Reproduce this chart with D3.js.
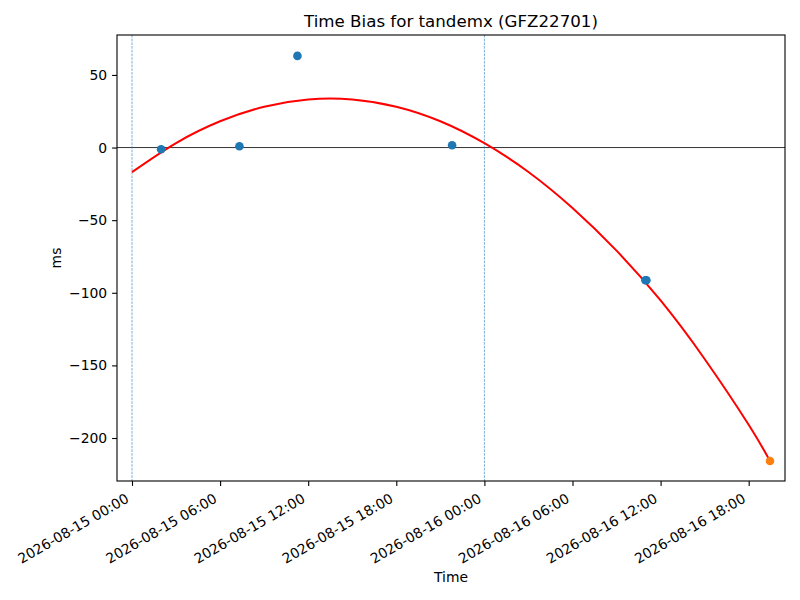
<!DOCTYPE html>
<html>
<head>
<meta charset="utf-8">
<script src="https://cdn.jsdelivr.net/npm/d3@7"></script>
<style>
  body { margin: 0; background: #fff; }
  svg { display: block; font-family: "DejaVu Sans", sans-serif; }
</style>
</head>
<body>
<svg id="chart" width="800" height="600"></svg>
<script>
// ---- data ----
const titleText = "Time Bias for tandemx (GFZ22701)";
const xLabel = "Time";
const yLabel = "ms";

// observed time bias (blue)
const obsTimes = ["2026-08-15T01:59:00Z", "2026-08-15T07:19:00Z", "2026-08-15T11:16:00Z",
                  "2026-08-15T21:48:00Z", "2026-08-16T10:58:00Z", "2026-08-16T11:02:00Z"];
const obsValues = [-1.2, 0.9, 63.1, 1.6, -91.4, -91.4];

// predicted point (orange)
const predTimes = ["2026-08-16T19:27:00Z"];
const predValues = [-215.8];

// fitted curve (red), values every 3 hours
const fitTimes = ["2026-08-15T00:00:00Z", "2026-08-15T03:00:00Z", "2026-08-15T06:00:00Z",
                  "2026-08-15T09:00:00Z", "2026-08-15T12:00:00Z", "2026-08-15T15:00:00Z",
                  "2026-08-15T18:00:00Z", "2026-08-15T21:00:00Z", "2026-08-16T00:00:00Z",
                  "2026-08-16T03:00:00Z", "2026-08-16T06:00:00Z", "2026-08-16T09:00:00Z",
                  "2026-08-16T12:00:00Z", "2026-08-16T15:00:00Z", "2026-08-16T18:00:00Z",
                  "2026-08-16T19:27:00Z"];
const fitValues = [-16.9, 3.1, 18.1, 28.1, 33.1, 33.1, 28.1, 18.1, 3.0,
                   -16.8, -41.6, -71.0, -105.3, -145.6, -190.9, -215.8];

// vertical reference lines
const vLineTimes = ["2026-08-15T00:00:00Z", "2026-08-16T00:00:00Z"];

// axis limits and ticks
const xDomain = ["2026-08-14T22:58:43Z", "2026-08-16T20:28:23Z"];
const yDomain = [-229.6, 77.5];
const xTickTimes = ["2026-08-15T00:00:00Z", "2026-08-15T06:00:00Z", "2026-08-15T12:00:00Z",
                    "2026-08-15T18:00:00Z", "2026-08-16T00:00:00Z", "2026-08-16T06:00:00Z",
                    "2026-08-16T12:00:00Z", "2026-08-16T18:00:00Z"];
const yTicks = [-200, -150, -100, -50, 0, 50];

// ---- layout ----
const pL = 117, pR = 785, pT = 35, pB = 481;
const svg = d3.select("#chart");
const parse = d3.isoParse;

const x = d3.scaleUtc().domain(xDomain.map(parse)).range([pL, pR]);
const y = d3.scaleLinear().domain(yDomain).range([pB, pT]);

const clipId = "plotclip";
svg.append("defs").append("clipPath").attr("id", clipId)
  .append("rect").attr("x", pL).attr("y", pT)
  .attr("width", pR - pL).attr("height", pB - pT);

const plot = svg.append("g").attr("clip-path", `url(#${clipId})`);

// horizontal zero line
plot.append("line")
  .attr("x1", pL).attr("x2", pR)
  .attr("y1", y(0)).attr("y2", y(0))
  .attr("stroke", "#000").attr("stroke-width", 0.8);

// vertical dashed lines
plot.selectAll("line.vl").data(vLineTimes).join("line")
  .attr("class", "vl")
  .attr("x1", d => x(parse(d))).attr("x2", d => x(parse(d)))
  .attr("y1", pT).attr("y2", pB)
  .attr("stroke", "#1f77b4").attr("stroke-opacity", 0.85)
  .attr("stroke-width", 0.7).attr("stroke-dasharray", "2.6,1.1");

// fitted curve
const fitData = fitTimes.map((t, i) => ({ t: parse(t), v: fitValues[i] }));
plot.append("path")
  .datum(fitData)
  .attr("fill", "none")
  .attr("stroke", "#ff0000")
  .attr("stroke-width", 2.0)
  .attr("d", d3.line().x(d => x(d.t)).y(d => y(d.v)).curve(d3.curveNatural));

// observed points
const obsData = obsTimes.map((t, i) => ({ t: parse(t), v: obsValues[i] }));
plot.selectAll("circle.obs").data(obsData).join("circle")
  .attr("class", "obs")
  .attr("cx", d => x(d.t)).attr("cy", d => y(d.v)).attr("r", 4.3)
  .attr("fill", "#1f77b4");

// predicted point
const predData = predTimes.map((t, i) => ({ t: parse(t), v: predValues[i] }));
plot.selectAll("circle.pred").data(predData).join("circle")
  .attr("class", "pred")
  .attr("cx", d => x(d.t)).attr("cy", d => y(d.v)).attr("r", 4.3)
  .attr("fill", "#ff7f0e");

// ---- axes ----
const fmt = d3.utcFormat("%Y-%m-%d %H:%M");
const xAxis = d3.axisBottom(x)
  .tickValues(xTickTimes.map(parse))
  .tickFormat(fmt)
  .tickSize(4.9).tickPadding(4.9);
const gx = svg.append("g").attr("transform", `translate(0,${pB})`).call(xAxis);
gx.select(".domain").remove();
gx.selectAll(".tick line").attr("stroke", "#000").attr("stroke-width", 1.1);
gx.selectAll(".tick text")
  .attr("font-size", "13.9px")
  .attr("font-family", "DejaVu Sans, sans-serif")
  .attr("fill", "#000")
  .attr("text-anchor", "end")
  .attr("y", 0).attr("dy", "0.78em")
  .attr("transform", "translate(-8,11) rotate(-30)");

const yAxis = d3.axisLeft(y)
  .tickValues(yTicks)
  .tickFormat(d => d < 0 ? "\u2212" + Math.abs(d) : String(d))
  .tickSize(4.9).tickPadding(4.9);
const gy = svg.append("g").attr("transform", `translate(${pL},0)`).call(yAxis);
gy.select(".domain").remove();
gy.selectAll(".tick line").attr("stroke", "#000").attr("stroke-width", 1.1);
gy.selectAll(".tick text")
  .attr("font-size", "13.9px")
  .attr("font-family", "DejaVu Sans, sans-serif")
  .attr("fill", "#000");

// frame
svg.append("rect")
  .attr("x", pL).attr("y", pT)
  .attr("width", pR - pL).attr("height", pB - pT)
  .attr("fill", "none").attr("stroke", "#000").attr("stroke-width", 1.1);

// title and labels
svg.append("text")
  .attr("x", (pL + pR) / 2).attr("y", 27)
  .attr("text-anchor", "middle")
  .attr("font-size", "16.67px")
  .text(titleText);

svg.append("text")
  .attr("x", (pL + pR) / 2).attr("y", 582)
  .attr("text-anchor", "middle")
  .attr("font-size", "13.9px")
  .text(xLabel);

svg.append("text")
  .attr("transform", `translate(61,${(pT + pB) / 2}) rotate(-90)`)
  .attr("text-anchor", "middle")
  .attr("font-size", "13.9px")
  .text(yLabel);
</script>
</body>
</html>
